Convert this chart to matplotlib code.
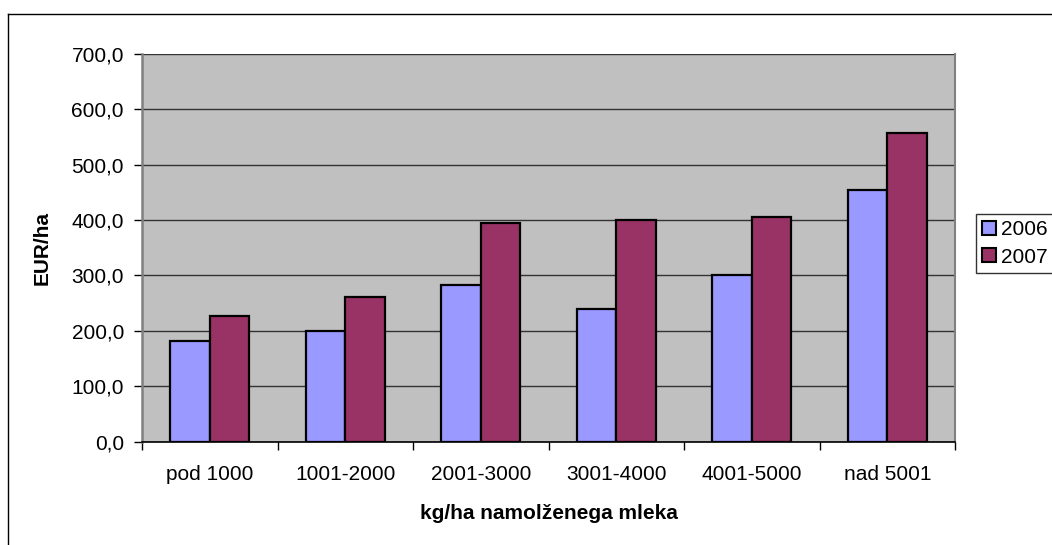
import matplotlib.pyplot as plt
import numpy as np
from matplotlib.lines import Line2D

plt.rcParams["font.family"] = ["Liberation Sans", "DejaVu Sans"]

# Values (EUR/ha).
CATEGORIES = ["pod 1000", "1001-2000", "2001-3000", "3001-4000", "4001-5000", "nad 5001"]
YEARS = ["2006", "2007"]
VALUES_2006 = [182, 200, 282, 240, 301, 454]
VALUES_2007 = [226, 261, 394, 400, 405, 557]
Y_TICKS = np.arange(0, 701, 100)

COLORS = ["#9999FF", "#993366"]
FS = 15


def main():
    fig = plt.figure(figsize=(10.52, 5.45), dpi=100)
    W, H = 1052, 545
    ax = fig.add_axes([142 / W, 1 - 441.5 / H, (955 - 142) / W, (441.5 - 54) / H])
    ax.set_facecolor("#C0C0C0")

    x = np.arange(len(CATEGORIES))
    bw = 0.29
    for i, (vals, year) in enumerate(zip([VALUES_2006, VALUES_2007], YEARS)):
        ax.bar(x + (i - 0.5) * bw, vals, width=bw, color=COLORS[i],
               edgecolor="black", linewidth=1.6, label=year, zorder=3)

    ax.set_xlim(-0.5, len(CATEGORIES) - 0.5)
    ax.set_ylim(0, 700)
    ax.set_yticks(Y_TICKS)
    ax.set_yticklabels([f"{v:.1f}".replace(".", ",") for v in Y_TICKS], fontsize=FS)
    ax.yaxis.grid(True, color="#333333", linewidth=1.0, zorder=1)
    ax.set_axisbelow(True)

    # category labels at centers, tick marks at boundaries
    ax.set_xticks(x)
    ax.set_xticklabels(CATEGORIES, fontsize=FS)
    ax.tick_params(axis="x", length=0, pad=17)
    ax.set_xticks(np.arange(len(CATEGORIES) + 1) - 0.5, minor=True)
    ax.tick_params(axis="x", which="minor", length=6, width=1, color="black")
    ax.tick_params(axis="y", length=6, width=1, color="black", pad=7)

    ax.spines["top"].set_visible(False)
    ax.spines["right"].set_color("#808080")
    ax.spines["right"].set_linewidth(1.5)
    ax.spines["left"].set_color("#808080")
    ax.spines["left"].set_linewidth(1.8)
    ax.spines["bottom"].set_color("black")
    ax.spines["bottom"].set_linewidth(1.2)

    ax.set_ylabel("EUR/ha", fontsize=FS, fontweight="bold", labelpad=14)
    ax.set_xlabel("kg/ha namolženega mleka", fontsize=FS, fontweight="bold", labelpad=14)

    leg = fig.legend(loc="upper left", bbox_to_anchor=(976 / W, 1 - 214 / H),
                     fontsize=FS, frameon=True, fancybox=False, handlelength=0.65,
                     handleheight=0.65, handletextpad=0.25, borderpad=0.3,
                     labelspacing=0.4, borderaxespad=0)
    leg.get_frame().set_edgecolor("black")
    leg.get_frame().set_linewidth(1.0)
    for h in leg.legend_handles:
        h.set_linewidth(1.5)

    # outer chart frame (left and top edges visible)
    fig.add_artist(Line2D([8 / W, 8 / W], [0, 1 - 14 / H], transform=fig.transFigure,
                          color="black", linewidth=1.0))
    fig.add_artist(Line2D([8 / W, 1], [1 - 14 / H, 1 - 14 / H], transform=fig.transFigure,
                          color="black", linewidth=1.0))

    fig.savefig("out.png", dpi=100)


if __name__ == "__main__":
    main()
